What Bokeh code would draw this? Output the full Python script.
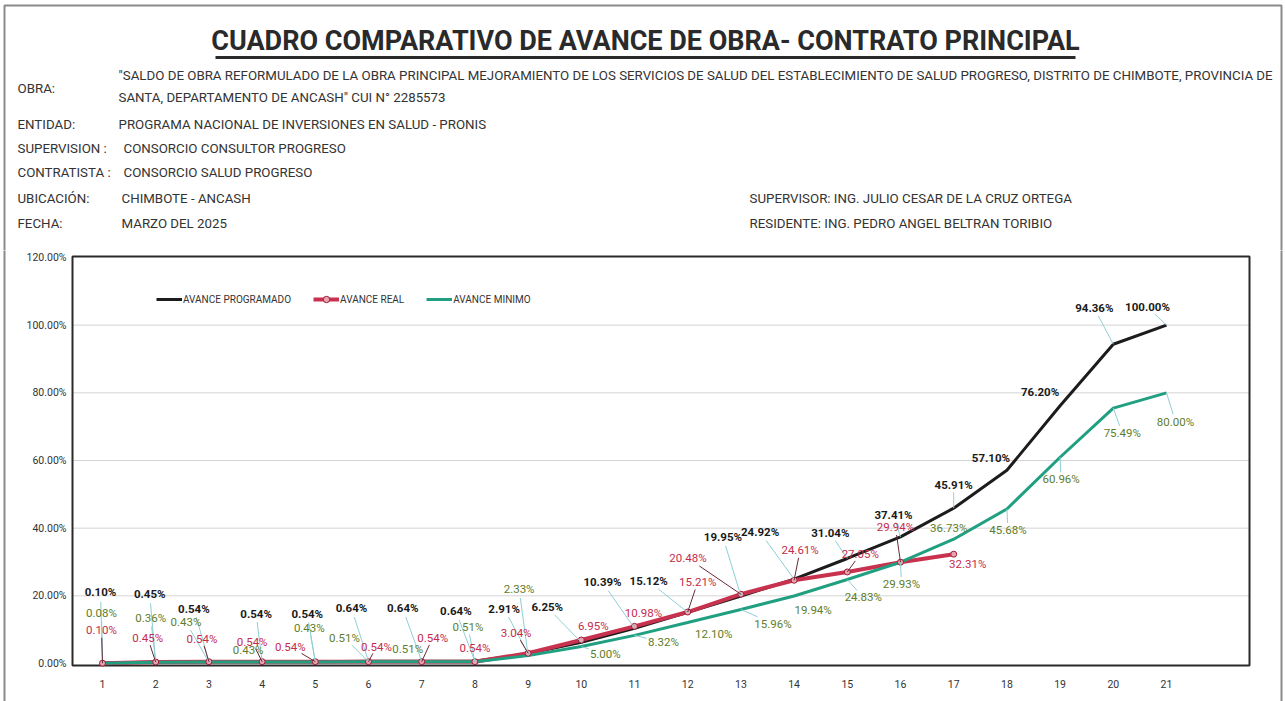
from bokeh.plotting import figure
from bokeh.layouts import column
from bokeh.models import (Legend, LegendItem, FixedTicker, PrintfTickFormatter, Range1d,
                          ColumnDataSource)
from bokeh.core.properties import value
from bokeh.embed import file_html
from bokeh.resources import INLINE

# ---------------- data ----------------
semanas = list(range(1, 22))
x_tick_labels = [str(i) for i in semanas]
avance_programado = [0.10, 0.45, 0.54, 0.54, 0.54, 0.64, 0.64, 0.64, 2.91, 6.25, 10.39,
                     15.12, 19.95, 24.92, 31.04, 37.41, 45.91, 57.10, 76.20, 94.36, 100.00]
avance_real = [0.10, 0.45, 0.54, 0.54, 0.54, 0.54, 0.54, 0.54, 3.04, 6.95, 10.98,
               15.21, 20.48, 24.61, 27.05, 29.94, 32.31]
avance_minimo = [0.08, 0.36, 0.43, 0.43, 0.43, 0.51, 0.51, 0.51, 2.33, 5.00, 8.32,
                 12.10, 15.96, 19.94, 24.83, 29.93, 36.73, 45.68, 60.96, 75.49, 80.00]
y_ticks = [0, 20, 40, 60, 80, 100, 120]
series_names = ["AVANCE PROGRAMADO", "AVANCE REAL", "AVANCE MINIMO"]

titulo = "CUADRO COMPARATIVO DE AVANCE DE OBRA- CONTRATO PRINCIPAL"
obra_1 = ('"SALDO DE OBRA REFORMULADO DE LA OBRA PRINCIPAL MEJORAMIENTO DE LOS SERVICIOS DE SALUD '
          'DEL ESTABLECIMIENTO DE SALUD PROGRESO, DISTRITO DE CHIMBOTE, PROVINCIA DE')
obra_2 = 'SANTA, DEPARTAMENTO DE ANCASH" CUI N° 2285573'
header_rows = [
    ("OBRA:", ""),
    ("", obra_1),
    ("", obra_2),
    ("ENTIDAD:", "PROGRAMA NACIONAL DE INVERSIONES EN SALUD - PRONIS"),
    ("SUPERVISION :", "CONSORCIO CONSULTOR PROGRESO"),
    ("CONTRATISTA :", "CONSORCIO SALUD PROGRESO"),
    ("UBICACIÓN:", "CHIMBOTE - ANCASH"),
    ("FECHA:", "MARZO DEL 2025"),
]
firmas = ["SUPERVISOR:  ING. JULIO CESAR DE LA CRUZ ORTEGA",
          "RESIDENTE:  ING. PEDRO ANGEL BELTRAN TORIBIO"]

# ---------------- layout (page px) ----------------
row_y = [88, 75, 97, 124, 148, 172, 198, 223]
val_x = [118, 118, 118, 118, 123, 123, 121, 121]
firma_y = [198, 223]

# data label offsets (screen px)
off_prog = [(-2, -71), (-6, -68), (-15, -53), (-6, -48), (-8, -48), (-17, -53), (-19, -53),
            (-19, -50), (-24, -45), (-34, -35), (-32, -46), (-39, -31), (-18, -59), (-34, -47),
            (-17, -25), (-7, -22), (0, -23), (-16, -12), (-20, -14), (-19, -36), (-19, -18)]
off_min = [(-1, -50), (-5, -44), (-23, -40), (-14, -12), (-6, -34), (-24, -24), (-14, -13),
           (-7, -35), (-9, -67), (24, 7), (29, 7), (26, 11), (32, 14), (19, 14), (16, 18),
           (1, 22), (-5, -11), (1, 21), (1, 22), (9, 25), (9, 29)]
off_real = [(-1, -33), (-8, -24), (-7, -23), (-10, -20), (-25, -15), (8, -15), (11, -24),
            (0, -14), (-12, -20), (12, -14), (9, -13), (10, -30), (-53, -36), (6, -30),
            (13, -18), (-5, -35), (14, 10)]

FONT = "Roboto"
W = 1285
HH = 250          # header height
CH = 701 - HH     # chart figure height
BORDER = "#8a8a8a"

# ================= header figure (data units == page px) =================
hdr = figure(width=W, height=HH, output_backend="svg", toolbar_location=None,
             x_range=Range1d(0, W), y_range=Range1d(HH, 0),
             x_axis_type=None, y_axis_type=None,
             min_border=0, min_border_left=0, min_border_right=0,
             min_border_top=0, min_border_bottom=0)
hdr.outline_line_color = None
hdr.grid.visible = False

hdr.multi_line(xs=[[4, 4, 1281, 1281]], ys=[[HH + 10, 5, 5, HH + 10]],
               line_color=BORDER, line_width=2)
hdr.text(x=[645], y=[40], text=[titulo], text_align="center", text_baseline="middle",
         text_font=value(FONT), text_font_size="27px", text_font_style="bold",
         text_color="#2a2a2a")
hdr.segment(x0=[215], y0=[57], x1=[1075], y1=[57], line_color="#2a2a2a", line_width=3)

HFS = "13.3px"
hdr.text(x=[17] * len(header_rows), y=row_y, text=[r[0] for r in header_rows],
         text_align="left", text_baseline="middle", text_font=value(FONT),
         text_font_size=HFS, text_color="#333333")
hdr.text(x=val_x, y=row_y, text=[r[1] for r in header_rows],
         text_align="left", text_baseline="middle", text_font=value(FONT),
         text_font_size=HFS, text_color="#333333")
hdr.text(x=[749, 749], y=firma_y, text=firmas,
         text_align="left", text_baseline="middle", text_font=value(FONT),
         text_font_size=HFS, text_color="#333333")

# ================= chart figure =================
PX_X, X_AT_1 = 53.2, 102.0        # px per week, page x of week 1
PX_Y, Y_AT_0 = 3.3833, 663.0      # px per percent, page y of 0 %
XR0 = 1 - X_AT_1 / PX_X
XR1 = XR0 + W / PX_X
YR1 = (Y_AT_0 - HH) / PX_Y
YR0 = YR1 - CH / PX_Y


def gx(px):
    return XR0 + px / PX_X


def gy(py):
    return YR1 - (py - HH) / PX_Y


A_L, A_R, A_T, A_B = gx(72), gx(1249), gy(256), gy(665)   # chart area

p = figure(width=W, height=CH, output_backend="svg", toolbar_location=None,
           x_range=Range1d(XR0, XR1), y_range=Range1d(YR0, YR1),
           min_border=0, min_border_left=0, min_border_right=0,
           min_border_top=0, min_border_bottom=0,
           background_fill_color="white", border_fill_color="white")
p.outline_line_color = None
p.xgrid.grid_line_color = None
p.ygrid.grid_line_color = None

p.xaxis.ticker = FixedTicker(ticks=semanas)
p.xaxis.major_label_overrides = {s: t for s, t in zip(semanas, x_tick_labels)}
p.yaxis.ticker = FixedTicker(ticks=y_ticks)
p.yaxis.formatter = PrintfTickFormatter(format="%.2f%%")
p.xaxis.fixed_location = A_B
p.yaxis.fixed_location = A_L
for ax in (p.xaxis, p.yaxis):
    ax.axis_line_color = None
    ax.major_tick_line_color = None
    ax.minor_tick_line_color = None
    ax.major_label_text_font = FONT
    ax.major_label_text_font_size = "10.5px"
    ax.major_label_text_color = "#333333"
p.xaxis.major_label_standoff = 8
p.yaxis.major_label_standoff = 0

# page border (sides)
p.segment(x0=[gx(4), gx(1281)], y0=[YR0 - 5, YR0 - 5], x1=[gx(4), gx(1281)],
          y1=[YR1 + 5, YR1 + 5], line_color=BORDER, line_width=2)
# horizontal gridlines inside chart area
gl = y_ticks[1:-1]
p.segment(x0=[A_L] * len(gl), y0=gl, x1=[A_R] * len(gl), y1=gl,
          line_color="#d4d4d4", line_width=1)
# chart area border
p.quad(left=[A_L], right=[A_R], top=[A_T], bottom=[A_B], fill_color=None,
       line_color="#2a2a2a", line_width=2)

C_PROG, C_REAL, C_MIN = "#1c1c1c", "#c8324e", "#20a080"
T_PROG, T_REAL, T_MIN = "#1a1a1a", "#c42c4c", "#5e7d2a"

r_prog = p.line(semanas, avance_programado, line_color=C_PROG, line_width=3)
r_real = p.line(semanas[:len(avance_real)], avance_real, line_color=C_REAL, line_width=4)
r_min = p.line(semanas, avance_minimo, line_color=C_MIN, line_width=3)
r_real_m = p.scatter(semanas[:len(avance_real)], avance_real, size=6, marker="circle",
                     fill_color="#e9a3b0", line_color="#9c1c36", line_width=1)


def add_labels(xs, ys, offs, color, lead_color, bold):
    txt = ["%.2f%%" % v for v in ys]
    lx0, ly0, lx1, ly1 = [], [], [], []
    for x, y, (dx, dy), t in zip(xs, ys, offs, txt):
        hw = len(t) * 2.9 + 1
        hh = 6.0
        if abs(dx) <= hw + 8 and abs(dy) <= hh + 8:
            continue
        ddx, ddy = -dx, -dy
        sx = hw / abs(ddx) if ddx != 0 else 1e9
        sy = hh / abs(ddy) if ddy != 0 else 1e9
        s = min(sx, sy) + 0.05
        ex = dx + ddx * s
        ey = dy + ddy * s
        lx0.append(x + ex / PX_X)
        ly0.append(y - ey / PX_Y)
        lx1.append(x)
        ly1.append(y)
    p.segment(lx0, ly0, lx1, ly1, line_color=lead_color, line_width=1)
    src = ColumnDataSource(dict(x=xs, y=ys, t=txt,
                                dx=[o[0] for o in offs], dy=[o[1] for o in offs]))
    p.text(x="x", y="y", text="t", source=src, x_offset="dx", y_offset="dy",
           text_align="center", text_baseline="middle", text_color=color,
           text_font=value(FONT), text_font_size="11.5px",
           text_font_style="bold" if bold else "normal")


add_labels(semanas, avance_programado, off_prog, T_PROG, "#8fcfd4", True)
add_labels(semanas, avance_minimo, off_min, T_MIN, "#8fcfd4", False)
add_labels(semanas[:len(avance_real)], avance_real, off_real, T_REAL, "#6a2a36", False)

legend = Legend(items=[LegendItem(label=series_names[0], renderers=[r_prog]),
                       LegendItem(label=series_names[1], renderers=[r_real, r_real_m]),
                       LegendItem(label=series_names[2], renderers=[r_min])],
                orientation="horizontal", location=(156, CH - (307 - HH)))
legend.border_line_color = None
legend.background_fill_alpha = 0
legend.padding = 0
legend.margin = 0
legend.spacing = 22
legend.label_standoff = 1
legend.glyph_width = 26
legend.glyph_height = 16
legend.label_text_font = FONT
legend.label_text_font_size = "10px"
legend.label_text_color = "#333333"
p.add_layout(legend, "center")

page = column(hdr, p, spacing=0)
open("out.html", "w").write(file_html(page, INLINE))
